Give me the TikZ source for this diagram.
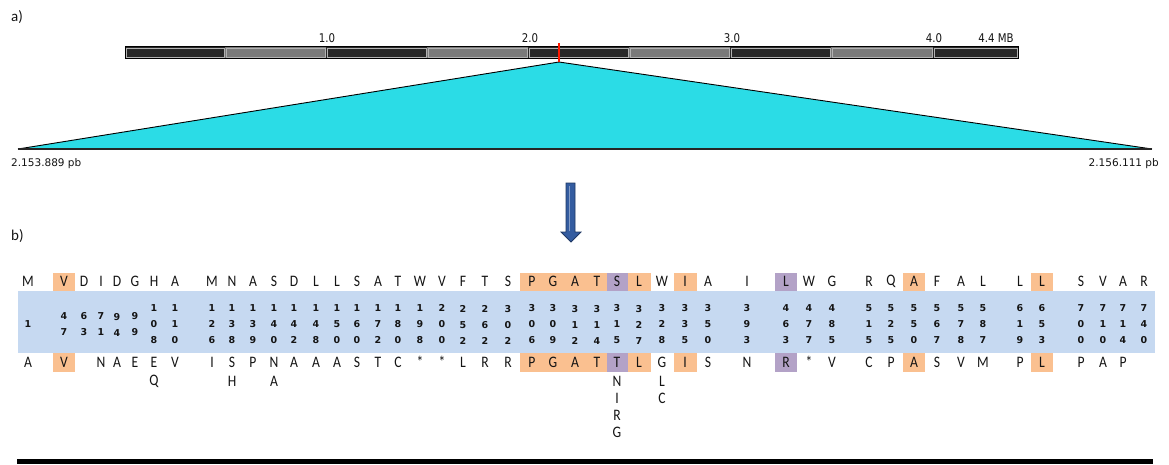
\documentclass[tikz,border=0pt]{standalone}
\usepackage{fontspec}
\setmainfont{Carlito}
\newfontfamily\seqfont[FakeStretch=0.85]{Carlito}
\newfontfamily\numfont{DejaVu Sans}
\newfontfamily\lblfont[FakeStretch=0.85]{DejaVu Sans}
\definecolor{peach}{RGB}{250,192,144}
\definecolor{lilac}{RGB}{179,162,199}
\definecolor{band}{RGB}{198,217,241}
\definecolor{tri}{RGB}{43,220,230}
\definecolor{barblk}{RGB}{40,40,40}
\definecolor{bargry}{RGB}{122,122,122}
\definecolor{arrowblue}{RGB}{52,92,160}
\definecolor{arrowdark}{RGB}{31,56,100}
\definecolor{ink}{RGB}{20,20,20}
\tikzset{
  seq/.style={font=\seqfont\fontsize{16}{16}\selectfont, text=ink, inner sep=0pt, anchor=center},
  num/.style={font=\numfont\bfseries\fontsize{9.5}{16}\selectfont, text=ink, inner sep=0pt, align=center, anchor=center},
  seglbl/.style={font=\lblfont\fontsize{12}{12}\selectfont, text=ink, inner sep=0pt},
  poslbl/.style={font=\numfont\fontsize{10.5}{11}\selectfont, text=ink, inner sep=0pt},
  partlbl/.style={font=\fontsize{15}{15}\selectfont, text=ink, inner sep=0pt, anchor=west},
}
\begin{document}
\begin{tikzpicture}[x=1pt,y=-1pt]
\useasboundingbox (0,0) rectangle (1169,464);
% part labels
\node[partlbl] (pa) at (11,17) {a)};
\node[partlbl] (pb) at (11,236) {b)};
% chromosome bar
\foreach \a/\b/\c in {125/225/barblk,225/326/bargry,326/427/barblk,427/528/bargry,528/629/barblk,629/730/bargry,730/831/barblk,831/933/bargry,933/1018/barblk}{
  \fill[\c] (\a,47) rectangle (\b,58);
  \draw[gray!60, line width=0.6pt] (\a+1,48) rectangle (\b-1,57);
}
\draw[black, line width=1pt] (125,46.5) rectangle (1018,58.5);
\node[seglbl] (l1) at (327,38) {1.0};
\node[seglbl] (l2) at (530,38) {2.0};
\node[seglbl] (l3) at (732,38) {3.0};
\node[seglbl] (l4) at (934,38) {4.0};
\node[seglbl] (l5) at (996,38) {4.4 MB};
% zoom triangle
\coordinate (apex) at (559,62);
\coordinate (bl) at (18,149);
\coordinate (br) at (1152,149);
\fill[tri] (apex) -- (br) -- (bl) -- cycle;
\draw[black, line width=0.9pt] (bl) -- (apex) -- (br);
\draw[black!85, line width=1.2pt] (bl) -- (br);
\draw[red!80!orange, line width=2pt] (559,43) -- (apex);
\node[poslbl, anchor=west] (pl) at (11,164) {2.153.889 pb};
\node[poslbl, anchor=east] (pr) at (1159,164) {2.156.111 pb};
% block arrow
\fill[arrowblue, draw=arrowdark, line width=0.8pt] (566,183) -- (575,183) -- (575,232) -- (581,232) -- (571,242) -- (561,232) -- (566,232) -- cycle;
\draw[arrowblue!60!white, line width=0.8pt] (569.5,186) -- (569.5,231);
% band
\fill[band] (18,291) rectangle (1155,353);
% highlights
\foreach \a/\b in {53/75,520/651,674/697,903/925,1031/1053}{
  \fill[peach] (\a,272.5) rectangle (\b,291);
  \fill[peach] (\a,353) rectangle (\b,371.5);
}
\foreach \a/\b in {607/628,775/797}{
  \fill[lilac] (\a,272.5) rectangle (\b,291);
  \fill[lilac] (\a,353) rectangle (\b,371.5);
}
% sequence columns
\foreach \x/\t/\n/\b [count=\i] in {
 28/M/1/A, 64/V/{4\\7}/V, 84/D/{6\\3}/{}, 101/I/{7\\1}/N, 117/D/{9\\4}/A,
 135/G/{9\\9}/E, 154/H/{1\\0\\8}/E, 175/A/{1\\1\\0}/V, 212/M/{1\\2\\6}/I,
 232/N/{1\\3\\8}/S, 253/A/{1\\3\\9}/P, 274/S/{1\\4\\0}/N, 294/D/{1\\4\\2}/A,
 316/L/{1\\4\\8}/A, 337/L/{1\\5\\0}/A, 357/S/{1\\6\\0}/S, 378/A/{1\\7\\2}/T,
 398/T/{1\\8\\0}/C, 420/W/{1\\9\\8}/*, 442/V/{2\\0\\0}/*, 463/F/{2\\5\\2}/L,
 485/T/{2\\6\\2}/R, 508/S/{3\\0\\2}/R, 532/P/{3\\0\\6}/P, 553/G/{3\\0\\9}/G,
 575/A/{3\\1\\2}/A, 597/T/{3\\1\\4}/T, 617/S/{3\\1\\5}/T, 639/L/{3\\2\\7}/L,
 662/W/{3\\2\\8}/G, 685/I/{3\\3\\5}/I, 708/A/{3\\5\\0}/S, 747/I/{3\\9\\3}/N,
 786/L/{4\\6\\3}/R, 809/W/{4\\7\\7}/*, 832/G/{4\\8\\5}/V, 869/R/{5\\1\\5}/C,
 891/Q/{5\\2\\5}/P, 914/A/{5\\5\\0}/A, 937/F/{5\\6\\7}/S, 961/A/{5\\7\\8}/V,
 983/L/{5\\8\\7}/M, 1020/L/{6\\1\\9}/P, 1042/L/{6\\5\\3}/L, 1081/S/{7\\0\\0}/P,
 1103/V/{7\\1\\0}/A, 1123/A/{7\\1\\4}/P, 1144/R/{7\\4\\0}/{}}{
  \node[seq] (t\i) at (\x,281.5) {\t};
  \node[num] (n\i) at (\x,324.5) {\n};
  \node[seq] (b\i) at (\x,362) {\b};
}
% extra alternative residues
\node[seq] (q7) at (154,381) {Q};
\node[seq] (h10) at (232,381) {H};
\node[seq] (a12) at (274,381) {A};
\node[seq] (x28a) at (617,381) {N};
\node[seq] (x28b) at (617,398) {I};
\node[seq] (x28c) at (617,415) {R};
\node[seq] (x28d) at (617,432) {G};
\node[seq] (x30a) at (662,381) {L};
\node[seq] (x30b) at (662,398) {C};
% bottom rule
\fill[black] (17,459) rectangle (1153,464);
\end{tikzpicture}
\end{document}
